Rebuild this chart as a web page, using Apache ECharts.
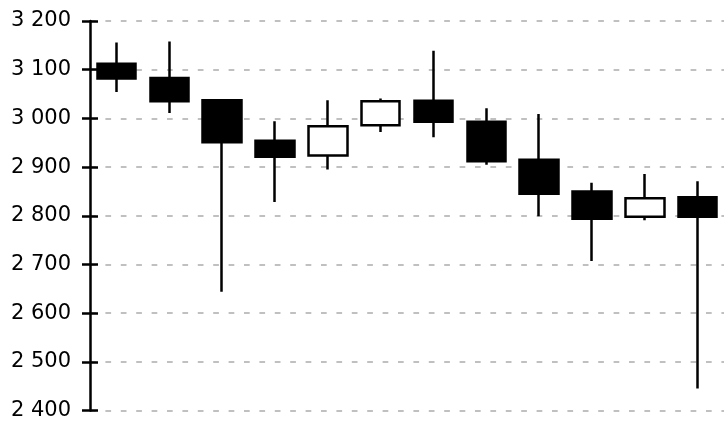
<!DOCTYPE html>
<html>
<head>
<meta charset="utf-8">
<script src="https://cdn.jsdelivr.net/npm/echarts@6/dist/echarts.min.js"></script>
<style>
html,body{margin:0;padding:0;background:#fff;}
#c{width:724px;height:421px;}
</style>
</head>
<body>
<div id="c"></div>
<script>
// categories (not labelled in the reference)
const categories = ['1','2','3','4','5','6','7','8','9','10','11','12'];
const openVals  = [3112, 3083, 3037, 2954, 2924, 2986, 3036, 2993, 2915, 2850, 2798, 2838];
const closeVals = [3082, 3035, 2951, 2921, 2984, 3035, 2993, 2912, 2845, 2794, 2836, 2798];
const lowVals   = [3054, 3011, 2644, 2828, 2895, 2972, 2961, 2905, 2799, 2707, 2791, 2445];
const highVals  = [3156, 3158, 3037, 2994, 3037, 3041, 3139, 3021, 3009, 2868, 2886, 2871];
const yMin = 2400, yMax = 3200, yStep = 100;

const data = categories.map((c, i) => [openVals[i], closeVals[i], lowVals[i], highVals[i]]);
const fmt = v => String(v).replace(/\B(?=(\d{3})+(?!\d))/g, ' ');

const chart = echarts.init(document.getElementById('c'), null, {renderer: 'canvas'});
chart.setOption({
  animation: false,
  grid: {left: 90, top: 21, width: 637, bottom: 9, containLabel: false},
  xAxis: {
    type: 'category', data: categories,
    axisLine: {show: false}, axisTick: {show: false}, axisLabel: {show: false},
    splitLine: {show: false}
  },
  yAxis: [{
    type: 'value', min: yMin, max: yMax, interval: yStep, position: 'left',
    axisLine: {show: true, lineStyle: {color: '#000', width: 2.5}},
    axisTick: {show: true, inside: false, length: 8, lineStyle: {color: '#000', width: 2.5}},
    axisLabel: {formatter: fmt, color: '#000', fontFamily: 'DejaVu Sans', fontSize: 21, margin: 19},
    splitLine: {show: true, lineStyle: {color: '#c0c0c0', width: 2, type: [5.7, 9.7]}}
  }, {
    type: 'value', min: yMin, max: yMax, interval: yStep, position: 'left',
    axisLine: {show: false},
    axisTick: {show: true, inside: true, length: 8, lineStyle: {color: '#000', width: 2.5}},
    axisLabel: {show: false},
    splitLine: {show: false}
  }],
  series: [{
    type: 'candlestick',
    data: data,
    barWidth: 39,
    itemStyle: {
      color: '#ffffff', color0: '#000000',
      borderColor: '#000000', borderColor0: '#000000',
      borderWidth: 2.5
    }
  }]
});
</script>
</body>
</html>
